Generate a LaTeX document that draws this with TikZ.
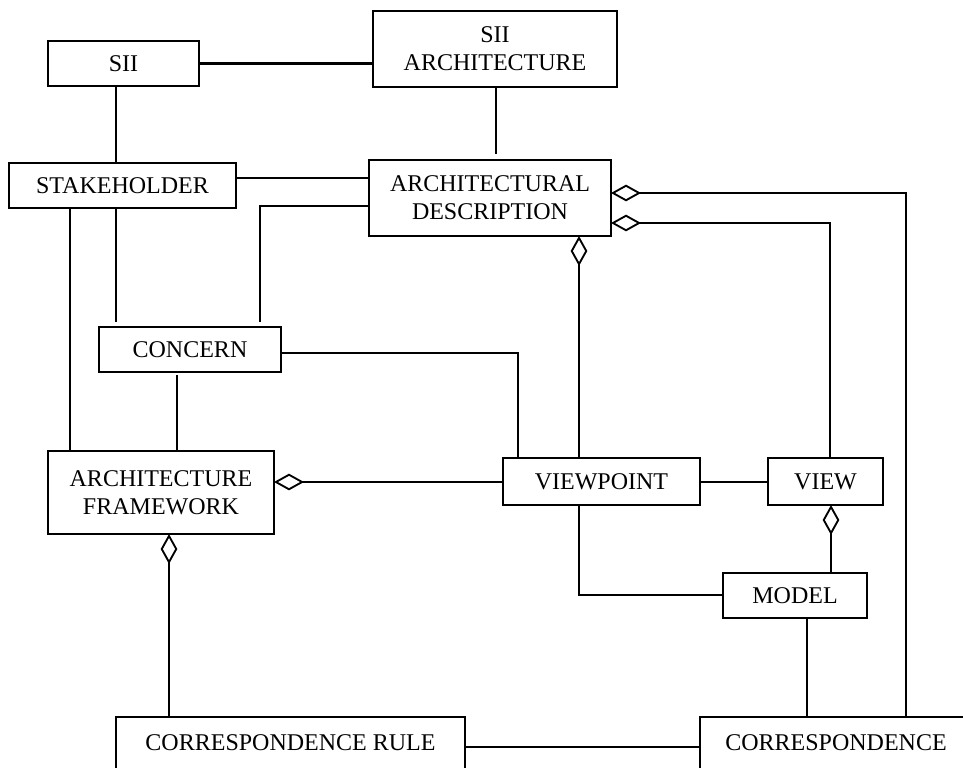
\documentclass[tikz,border=0pt]{standalone}
\usepackage{fontspec}
\setmainfont{Liberation Serif}
\usetikzlibrary{arrows.meta}
\begin{document}
\begin{tikzpicture}[x=0.75pt,y=-0.75pt,
  box/.style={draw,line width=1.6pt,inner sep=0pt,outer sep=0pt,align=center,
    font=\fontsize{18pt}{21pt}\selectfont},
  conn/.style={line width=1.6pt},
  agg/.style={conn,{Diamond[open,length=22.5pt,width=12.5pt,line width=1.4pt]}-}]
\useasboundingbox (0,0) rectangle (963,767);
\clip (0,0) rectangle (963,767);
% nodes
\node[box,minimum width=113.25pt,minimum height=33.75pt] (sii) at (123.5,63.5) {SII};
\node[box,minimum width=183pt,minimum height=57pt] (siia) at (495,49) {SII\\ARCHITECTURE};
\node[box,minimum width=170.25pt,minimum height=33.75pt] (stk) at (122.5,185.5) {STAKEHOLDER};
\node[box,minimum width=181.5pt,minimum height=57pt] (ad) at (490,198) {ARCHITECTURAL\\DESCRIPTION};
\node[box,minimum width=136.5pt,minimum height=33.75pt] (con) at (190,349.5) {CONCERN};
\node[box,minimum width=169.5pt,minimum height=62.25pt] (af) at (161,492.5) {ARCHITECTURE\\FRAMEWORK};
\node[box,minimum width=147.75pt,minimum height=35.25pt] (vp) at (601.5,481.5) {VIEWPOINT};
\node[box,minimum width=86.25pt,minimum height=35.25pt] (view) at (825.5,481.5) {VIEW};
\node[box,minimum width=108pt,minimum height=33.75pt] (model) at (795,595.5) {MODEL};
\node[box,minimum width=261.75pt,minimum height=39pt] (cr) at (290.5,743) {CORRESPONDENCE RULE};
\node[box,minimum width=204pt,minimum height=39pt] (corr) at (836,743) {CORRESPONDENCE};
% helper columns / rows
\coordinate (c70) at (70,0);
\coordinate (c116) at (116,0);
\coordinate (c169) at (169,0);
\coordinate (c177) at (177,0);
\coordinate (c260) at (260,0);
\coordinate (c496) at (496,0);
\coordinate (c518) at (518,0);
\coordinate (c579) at (579,0);
\coordinate (c807) at (807,0);
\coordinate (c830) at (830,0);
\coordinate (c831) at (831,0);
\coordinate (c906) at (906,0);
\coordinate (r178) at (0,178);
\coordinate (r193) at (0,193);
\coordinate (r206) at (0,206);
\coordinate (r223) at (0,223);
\coordinate (r353) at (0,353);
\coordinate (r482) at (0,482);
\coordinate (r595) at (0,595);
\coordinate (r747) at (0,747);
% connectors
\draw[conn] (sii.east) -- (sii.east -| siia.west);
\draw[conn] (sii.south -| c116) -- (stk.north -| c116);
\draw[conn] (stk.east |- r178) -- (ad.west |- r178);
\draw[conn,shorten >=3.75pt] (ad.west |- r206) -- (c260 |- r206) -- (con.north -| c260);
\draw[conn,shorten >=3.75pt] (stk.south -| c116) -- (con.north -| c116);
\draw[conn] (stk.south -| c70) -- (af.north -| c70);
\draw[conn,shorten >=4.5pt] (siia.south -| c496) -- (ad.north -| c496);
\draw[conn] (con.east |- r353) -- (c518 |- r353) -- (vp.north -| c518);
\draw[conn,shorten <=2.25pt] (con.south -| c177) -- (af.north -| c177);
\draw[agg] (af.east |- r482) -- (vp.west |- r482);
\draw[agg] (af.south -| c169) -- (cr.north -| c169);
\draw[agg] (ad.east |- r193) -- (c906 |- r193) -- (corr.north -| c906);
\draw[agg] (ad.east |- r223) -- (c830 |- r223) -- (view.north -| c830);
\draw[agg] (ad.south -| c579) -- (vp.north -| c579);
\draw[conn] (vp.east |- r482) -- (view.west |- r482);
\draw[agg] (view.south -| c831) -- (model.north -| c831);
\draw[conn] (vp.south -| c579) -- (c579 |- r595) -- (model.west |- r595);
\draw[conn] (model.south -| c807) -- (corr.north -| c807);
\draw[conn] (cr.east |- r747) -- (corr.west |- r747);
\end{tikzpicture}
\end{document}
